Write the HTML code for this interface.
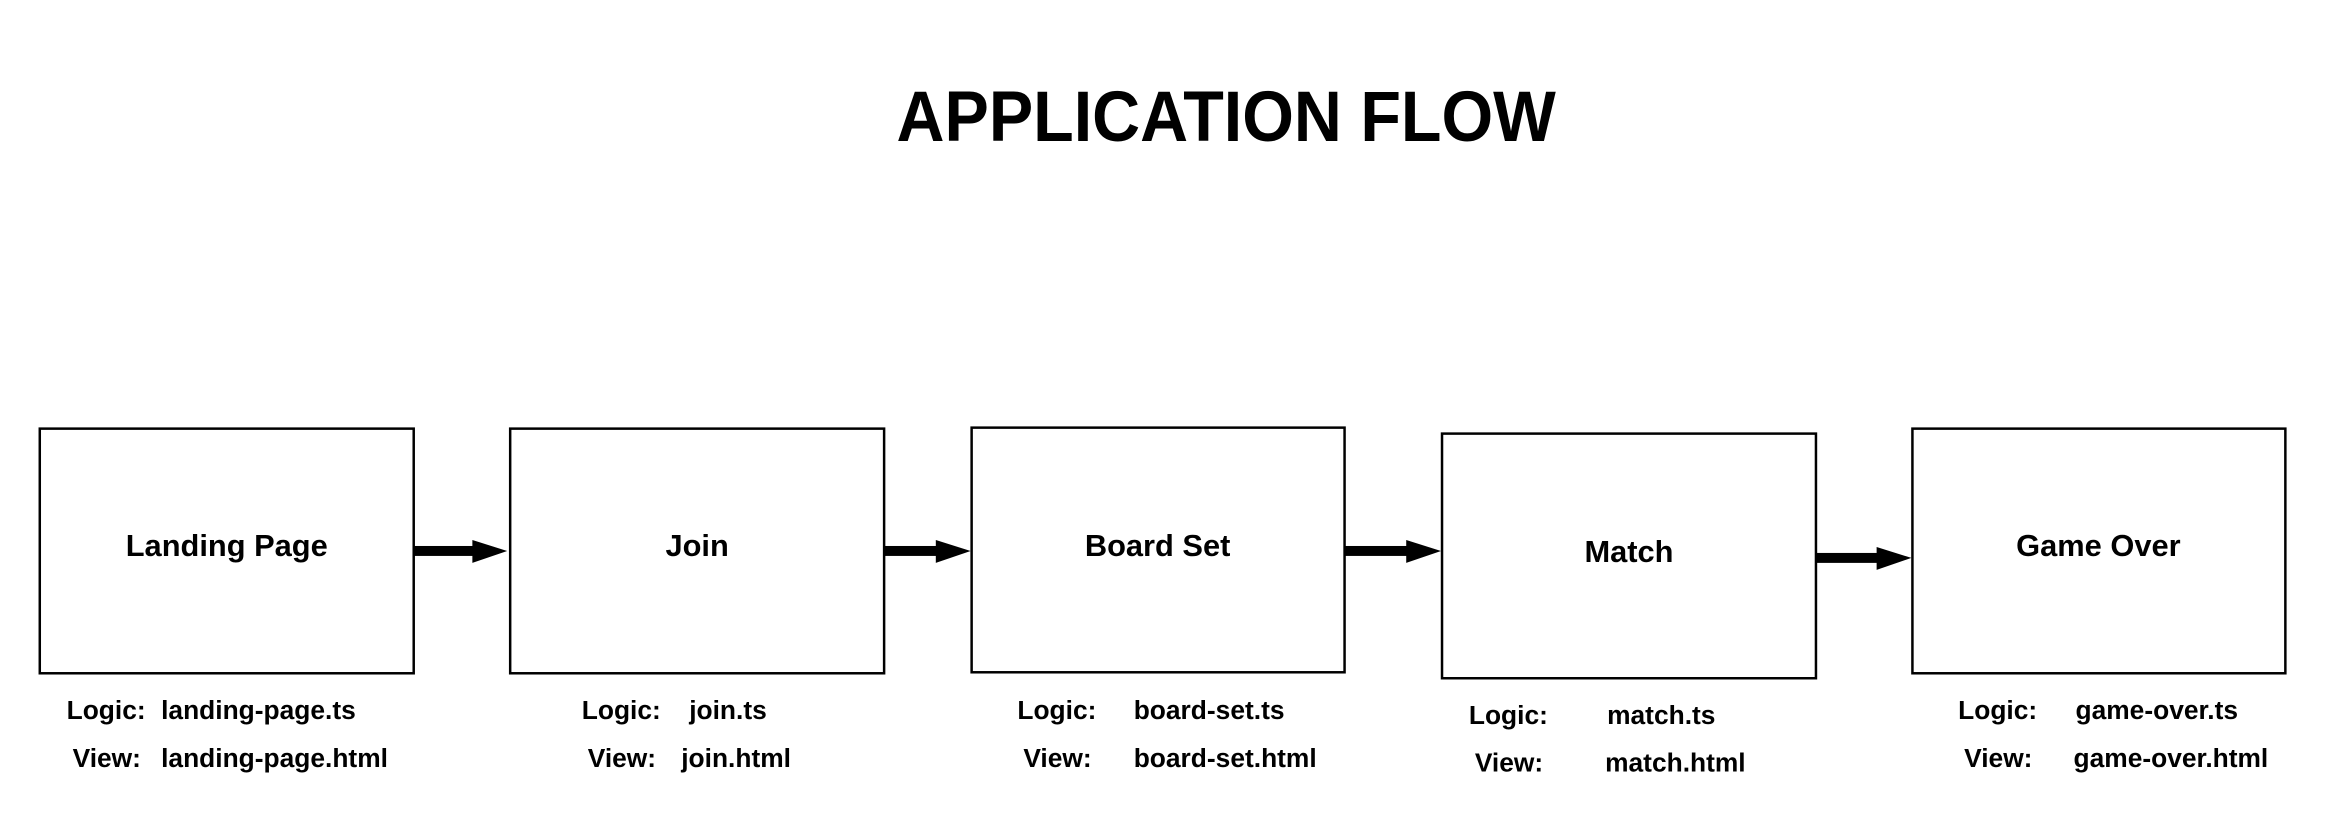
<!DOCTYPE html>
<html><head><meta charset="utf-8"><style>
html,body{margin:0;padding:0;background:#fff;width:2334px;height:837px;overflow:hidden}
svg{display:block}
text{font-family:"Liberation Sans",Arial,sans-serif;font-weight:bold;fill:#000}
</style></head><body>
<svg width="2334" height="837" viewBox="0 0 2334 837" xmlns="http://www.w3.org/2000/svg">
<g transform="scale(0.9945)">
<text x="1233" y="142" font-size="72" text-anchor="middle" textLength="663" lengthAdjust="spacingAndGlyphs">APPLICATION FLOW</text>
<g fill="none" stroke="#000" stroke-width="2.5">
<rect x="40" y="431" width="376" height="246"/>
<rect x="513" y="431" width="376" height="246"/>
<rect x="977" y="430" width="375" height="246"/>
<rect x="1450" y="436" width="376" height="246"/>
<rect x="1923" y="431" width="375" height="246"/>
</g>
<g fill="#000" transform="translate(0,3)">
<rect x="416" y="546" width="60" height="10"/><polygon points="475,540 510,551 475,563"/>
<rect x="889" y="546" width="53" height="10"/><polygon points="941,540 976,551 941,563"/>
<rect x="1352" y="546" width="63" height="10"/><polygon points="1414,540 1449,551 1414,563"/>
<rect x="1826" y="553" width="62" height="10"/><polygon points="1887,547 1922,558 1887,570"/>
</g>
<g font-size="31" text-anchor="middle">
<text x="228" y="559">Landing Page</text>
<text x="701" y="559">Join</text>
<text x="1164" y="559">Board Set</text>
<text x="1638" y="565">Match</text>
<text x="2110" y="559">Game Over</text>
</g>
<g font-size="26.5">
<text x="67" y="723">Logic:</text><text x="162" y="723">landing-page.ts</text>
<text x="73" y="771">View:</text><text x="162" y="771">landing-page.html</text>
<text x="585" y="723">Logic:</text><text x="693" y="723">join.ts</text>
<text x="591" y="771">View:</text><text x="685" y="771">join.html</text>
<text x="1023" y="723">Logic:</text><text x="1140" y="723">board-set.ts</text>
<text x="1029" y="771">View:</text><text x="1140" y="771">board-set.html</text>
<text x="1477" y="728">Logic:</text><text x="1616" y="728">match.ts</text>
<text x="1483" y="776">View:</text><text x="1614" y="776">match.html</text>
<text x="1969" y="723">Logic:</text><text x="2087" y="723">game-over.ts</text>
<text x="1975" y="771">View:</text><text x="2085" y="771">game-over.html</text>
</g>
</g>
</svg>
</body></html>
